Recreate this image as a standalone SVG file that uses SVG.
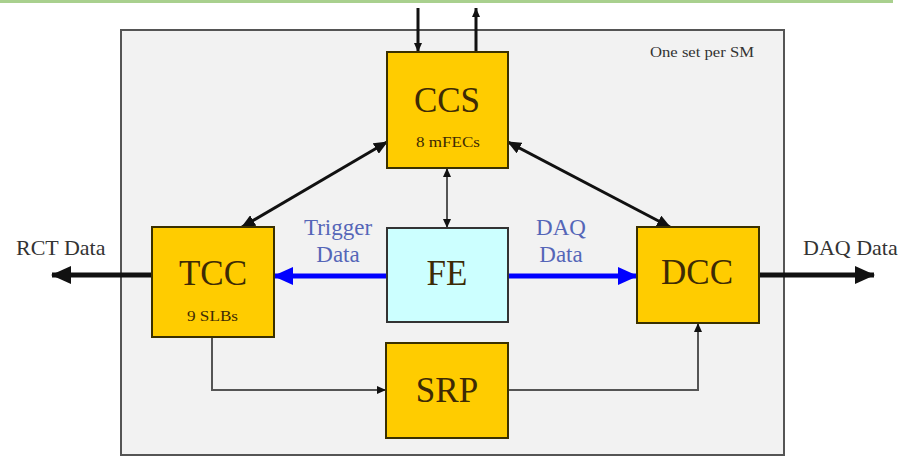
<svg xmlns="http://www.w3.org/2000/svg" width="907" height="457" viewBox="0 0 907 457">
  <defs>
    <style>
      .box { fill: #ffcc00; stroke: #3a3000; stroke-width: 2; }
      .fe { fill: #ccffff; stroke: #333; stroke-width: 2; }
      .name { font-family: "Liberation Serif", "Times New Roman", serif; font-size: 35px; fill: #3d2a05; text-anchor: middle; }
      .sub { font-family: "Liberation Serif", "Times New Roman", serif; font-size: 14px; fill: #3d2a05; }
      .lbl { font-family: "Liberation Serif", "Times New Roman", serif; font-size: 22px; fill: #333; }
      .blue { font-family: "Liberation Serif", "Times New Roman", serif; font-size: 23px; fill: #5566b8; text-anchor: middle; }
      .thick { stroke: #111; stroke-width: 3; fill: none; }
      .heavy { stroke: #111; stroke-width: 5; fill: none; }
      .thin { stroke: #555; stroke-width: 2; fill: none; }
      .bl { stroke: #0000ff; stroke-width: 5; fill: none; }
    </style>
    <marker id="ah" markerUnits="userSpaceOnUse" markerWidth="14" markerHeight="12" refX="13" refY="6" orient="auto-start-reverse">
      <path d="M0,0 L14,6 L0,12 Z" fill="#111"/>
    </marker>
    <marker id="ahs" markerUnits="userSpaceOnUse" markerWidth="9" markerHeight="8" refX="9" refY="4" orient="auto-start-reverse">
      <path d="M0,0 L9,4 L0,8 Z" fill="#111"/>
    </marker>
    <marker id="ahb" markerUnits="userSpaceOnUse" markerWidth="20" markerHeight="18" refX="19" refY="9" orient="auto">
      <path d="M0,0 L20,9 L0,18 Z" fill="#111"/>
    </marker>
    <marker id="ahblue" markerUnits="userSpaceOnUse" markerWidth="20" markerHeight="18" refX="19" refY="9" orient="auto">
      <path d="M0,0 L20,9 L0,18 Z" fill="#0000ff"/>
    </marker>
  </defs>

  <rect x="0" y="0" width="907" height="457" fill="#ffffff"/>
  <!-- top band -->
  <rect x="0" y="0" width="893" height="3" fill="#a9d08e"/>

  <!-- enclosing frame -->
  <g id="frame">
    <rect x="121" y="30" width="663" height="425" fill="#f2f2f2" stroke="#555" stroke-width="2"/>
    <text x="650" y="57" font-family="'Liberation Serif', 'Times New Roman', serif" font-size="14" fill="#333" textLength="104" lengthAdjust="spacingAndGlyphs">One set per SM</text>
  </g>

  <!-- connectors -->
  <g id="connectors">
    <line class="thick" x1="418" y1="8" x2="418" y2="52" marker-end="url(#ahs)"/>
    <line class="thick" x1="476" y1="52" x2="476" y2="8" marker-end="url(#ahs)"/>
    <line class="thick" x1="387" y1="142" x2="242" y2="227" marker-start="url(#ah)" marker-end="url(#ah)"/>
    <line class="thick" x1="508" y1="142" x2="670" y2="227" marker-start="url(#ah)" marker-end="url(#ah)"/>
    <line class="thin" x1="447" y1="168" x2="447" y2="228" marker-start="url(#ahs)" marker-end="url(#ahs)"/>
    <line class="bl" x1="387" y1="276" x2="274" y2="276" marker-end="url(#ahblue)"/>
    <line class="bl" x1="508" y1="276" x2="637" y2="276" marker-end="url(#ahblue)"/>
    <line class="heavy" x1="152" y1="275" x2="52" y2="275" marker-end="url(#ahb)"/>
    <line class="heavy" x1="759" y1="275" x2="874" y2="275" marker-end="url(#ahb)"/>
    <polyline class="thin" points="212,337 212,390 386,390" marker-end="url(#ahs)"/>
    <polyline class="thin" points="508,390 698,390 698,323" marker-end="url(#ahs)"/>
  </g>

  <text class="lbl" x="16" y="255">RCT Data</text>
  <text class="lbl" x="803" y="255">DAQ Data</text>
  <text class="blue" x="338" y="235">Trigger</text>
  <text class="blue" x="338" y="262">Data</text>
  <text class="blue" x="561" y="235">DAQ</text>
  <text class="blue" x="561" y="262">Data</text>

  <g id="ccs">
    <rect class="box" x="387" y="52" width="121" height="116"/>
    <text class="name" x="447" y="112">CCS</text>
    <text class="sub" x="416" y="147" textLength="64" lengthAdjust="spacingAndGlyphs">8 mFECs</text>
  </g>
  <g id="tcc">
    <rect class="box" x="152" y="227" width="122" height="110"/>
    <text class="name" x="213" y="285">TCC</text>
    <text class="sub" x="187" y="321" textLength="51" lengthAdjust="spacingAndGlyphs">9 SLBs</text>
  </g>
  <g id="fe">
    <rect class="fe" x="387" y="228" width="121" height="94"/>
    <text class="name" x="447" y="285">FE</text>
  </g>
  <g id="dcc">
    <rect class="box" x="637" y="227" width="122" height="96"/>
    <text class="name" x="697" y="284">DCC</text>
  </g>
  <g id="srp">
    <rect class="box" x="386" y="343" width="122" height="95"/>
    <text class="name" x="447" y="402">SRP</text>
  </g>
</svg>
